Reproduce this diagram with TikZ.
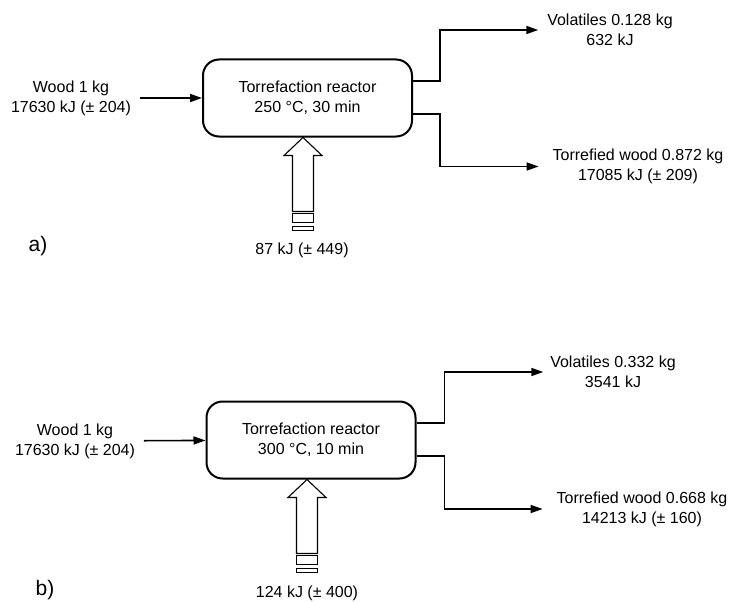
\documentclass[tikz,border=0pt]{standalone}
\usepackage{fontspec}
\setmainfont{Liberation Sans}
\usetikzlibrary{positioning,calc,arrows.meta}

\begin{document}
\begin{tikzpicture}[x=1pt,y=-1pt,%
      reactor/.style={draw,line width=2pt,rounded corners=16pt,minimum width=209pt,minimum height=77pt,align=center},%
      stream/.style={align=center,inner sep=0pt,outer sep=9pt},%
      flow/.style={line width=1.6pt,-{Triangle[length=12pt,width=8pt]}},%
      heat/.style={line width=1.1pt},%
      panel/.style={font=\fontsize{21}{24}\selectfont},%
      every node/.style={font=\fontsize{16}{20}\selectfont}]
      \useasboundingbox (0,0) rectangle (729,602);

      % % Panel a
      \node[reactor] (reactorA) at (307.5,98) {Torrefaction reactor\\250 °C, 30 min};
      \node[stream] (woodA) at (71,98) {Wood 1 kg\\17630 kJ (± 204)};
      \node[stream] (volA) at (610,30) {Volatiles 0.128 kg\\632 kJ};
      \node[stream,outer sep=14pt] (torrA) at (638,166.5) {Torrefied wood 0.872 kg\\17085 kJ (± 209)};
      \node[stream] (heatA) at (302,250) {87 kJ (± 449)};
      \node[panel] (labelA) at (38,246) {a)};
      \draw[flow] (woodA) -- (reactorA);
      \draw[flow] ([yshift=17pt]reactorA.east) -- ++(27,0) |- (volA.west);
      \draw[flow] ([yshift=-16pt]reactorA.east) -- ++(27,0) |- (torrA.west);
      \coordinate (tipA) at ([xshift=-4.5pt]reactorA.south);
      \draw[heat] (tipA) -- ++(19,18) -- ++(-8.5,0) -- ++(0,56) -- ++(-21,0) -- ++(0,-56) -- ++(-8.5,0) -- cycle;
      \draw[heat] ($ (tipA) + (-10.5,76) $) rectangle ++(21,9);
      \draw[heat] ($ (tipA) + (-10.5,89) $) rectangle ++(21,4);

      % % Panel b
      \node[reactor] (reactorB) at (311,440) {Torrefaction reactor\\300 °C, 10 min};
      \node[stream] (woodB) at (75,441) {Wood 1 kg\\17630 kJ (± 204)};
      \node[stream,outer sep=7pt] (volB) at (613,372) {Volatiles 0.332 kg\\3541 kJ};
      \node[stream,outer sep=14pt] (torrB) at (642,509) {Torrefied wood 0.668 kg\\14213 kJ (± 160)};
      \node[stream] (heatB) at (307,593) {124 kJ (± 400)};
      \node[panel] (labelB) at (45,590) {b)};
      \draw[flow] (woodB) -- (reactorB);
      \draw[flow] ([yshift=17pt]reactorB.east) -- ++(28,0) |- (volB.west);
      \draw[flow] ([yshift=-16pt]reactorB.east) -- ++(28,0) |- (torrB.west);
      \coordinate (tipB) at ([xshift=-4pt]reactorB.south);
      \draw[heat] (tipB) -- ++(19,18) -- ++(-8.5,0) -- ++(0,56) -- ++(-21,0) -- ++(0,-56) -- ++(-8.5,0) -- cycle;
      \draw[heat] ($ (tipB) + (-10.5,76) $) rectangle ++(21,9);
      \draw[heat] ($ (tipB) + (-10.5,89) $) rectangle ++(21,4);
  \end{tikzpicture}
\end{document}
